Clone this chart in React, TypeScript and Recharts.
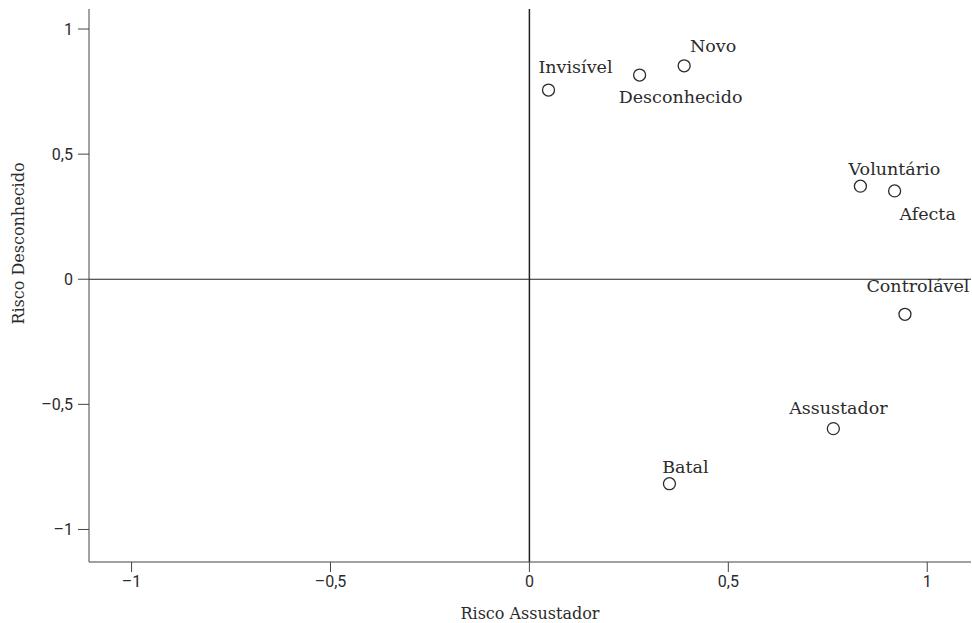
import React from 'react';
import { ScatterChart, Scatter, XAxis, YAxis, ReferenceLine } from 'recharts';

const names = ['Invisível', 'Desconhecido', 'Novo', 'Voluntário', 'Afecta', 'Controlável', 'Assustador', 'Batal'];
const xValues = [0.048, 0.277, 0.389, 0.832, 0.918, 0.944, 0.764, 0.352];
const yValues = [0.756, 0.816, 0.853, 0.372, 0.353, -0.14, -0.597, -0.817];
const xTicks = [-1, -0.5, 0, 0.5, 1];
const yTicks = [-1, -0.5, 0, 0.5, 1];

const data = names.map((name, i) => ({ name, x: xValues[i], y: yValues[i] }));

// label placement relative to the point (text anchor middle, baseline offset)
const labelOffsets: Record<string, [number, number]> = {
  'Invisível': [27, -17],
  'Desconhecido': [41, 28],
  'Novo': [29, -14],
  'Voluntário': [34, -11],
  'Afecta': [33, 29],
  'Controlável': [13, -22],
  'Assustador': [5, -15],
  'Batal': [16, -11],
};

const SERIF = '"DejaVu Serif", serif';
const SANS = 'Roboto, "Noto Sans", sans-serif';
const INK = '#2b2b2b';

const fmt = (v: number) => (v < 0 ? '\u2013' : '') + String(Math.abs(v)).replace('.', ',');

const PointShape = (props: any) => {
  const { cx, cy, payload } = props;
  const off = labelOffsets[payload.name] || [0, -12];
  return (
    <g>
      <circle cx={cx} cy={cy} r={6} fill="#fff" stroke={INK} strokeWidth={1.3} />
      <text x={cx + off[0]} y={cy + off[1]} textAnchor="middle" fontFamily={SERIF} fontSize={17.5} fill={INK}>
        {payload.name}
      </text>
    </g>
  );
};

const YLabel = (props: any) => {
  const vb = props.viewBox || { x: 0, y: 0, width: 0, height: 0 };
  const x = vb.x + 18;
  const y = vb.y + vb.height / 2 - 42;
  return (
    <text x={x} y={y} transform={`rotate(-90, ${x}, ${y})`} textAnchor="middle" dominantBaseline="central" fontFamily={SERIF} fontSize={16} fill={INK}>
      Risco Desconhecido
    </text>
  );
};

const XLabel = (props: any) => {
  const vb = props.viewBox || { x: 0, y: 0, width: 0, height: 0 };
  return (
    <text x={vb.x + vb.width / 2} y={vb.y + 57} textAnchor="middle" fontFamily={SERIF} fontSize={16} fill={INK}>
      Risco Assustador
    </text>
  );
};

export default function App() {
  return (
    <div style={{ position: 'absolute', left: 0, top: 0, width: 972, height: 623, background: '#fff' }}>
      <ScatterChart width={972} height={623} margin={{ top: 9, right: 1, bottom: 0, left: 0 }}>
        <XAxis
          type="number"
          dataKey="x"
          domain={[-1.107, 1.11]}
          ticks={xTicks}
          tickFormatter={fmt}
          height={61}
          stroke="#444"
          tickSize={10}
          tickMargin={4}
          tick={{ fontFamily: SANS, fontSize: 16, fill: INK }}
          label={<XLabel />}
          allowDataOverflow
        />
        <YAxis
          type="number"
          dataKey="y"
          domain={[-1.13, 1.08]}
          ticks={yTicks}
          tickFormatter={fmt}
          width={89}
          stroke="#444"
          tickSize={11}
          tickMargin={5}
          tick={{ fontFamily: SANS, fontSize: 16, fill: INK }}
          label={<YLabel />}
          allowDataOverflow
        />
        <ReferenceLine x={0} stroke="#222" strokeWidth={1.5} />
        <ReferenceLine y={0} stroke="#222" strokeWidth={1.2} />
        <Scatter data={data} shape={<PointShape />} isAnimationActive={false} />
      </ScatterChart>
    </div>
  );
}
